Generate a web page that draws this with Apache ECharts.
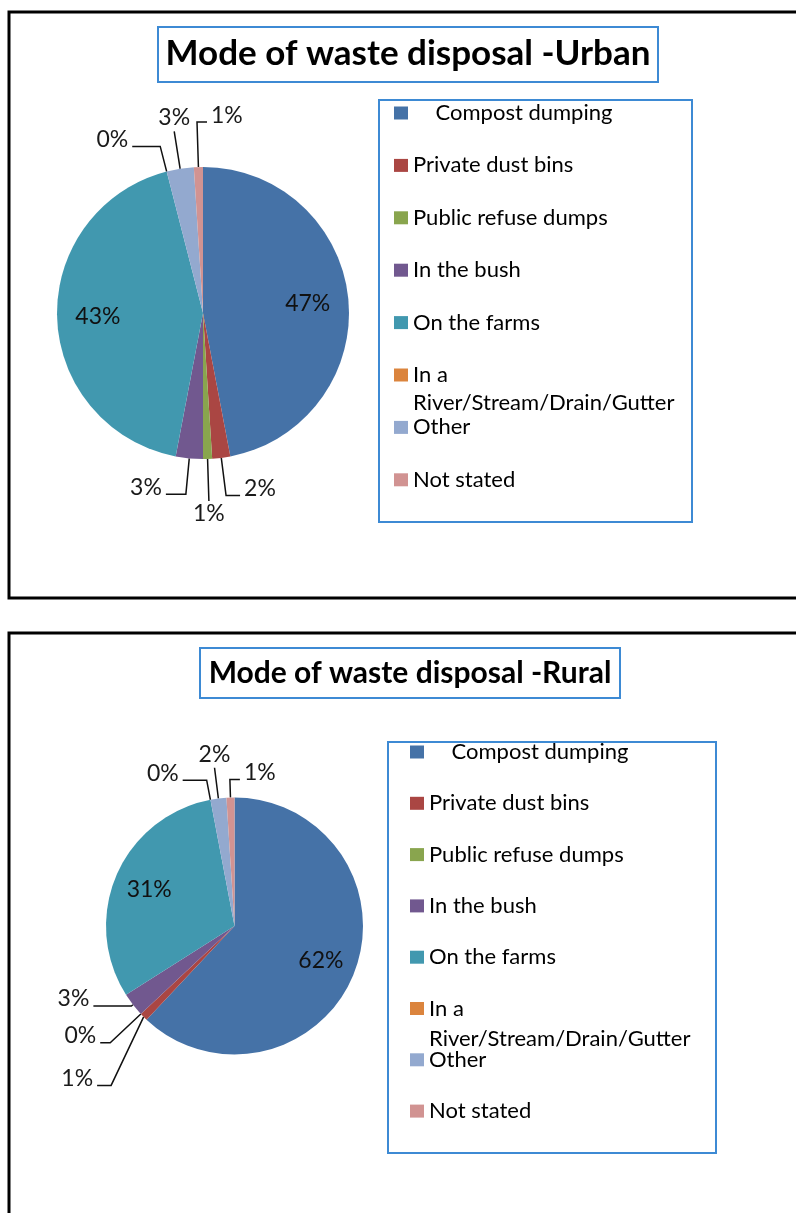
<!DOCTYPE html>
<html>
<head>
<meta charset="utf-8">
<title>Mode of waste disposal</title>
<script src="https://cdn.jsdelivr.net/npm/echarts@6/dist/echarts.min.js"></script>
<style>
	html, body { margin: 0; padding: 0; background: #fff; }
	#main { width: 796px; height: 1213px; }
</style>
</head>
<body>
<div id="main"></div>
<script>
/*数据*/
var modes = ['Compost dumping', 'Private dust bins', 'Public refuse dumps', 'In the bush', 'On the farms', 'In a River/Stream/Drain/Gutter', 'Other', 'Not stated'];
var urbanShare = [47, 2, 1, 3, 43, 0, 3, 1];
var ruralShare = [62, 1, 0, 3, 31, 0, 2, 1];
var palette = ['#4572A7', '#AA4643', '#89A54E', '#71588F', '#4198AF', '#DB843D', '#93A9CF', '#D19392'];

// leader line per slice: [radial length, horizontal length, where the text sits, extra drop]
var urbanLeader = [null, [38, 14, 'side'], [42, 0, 'down'], [36, 20, 'side'], null, [26, 28, 'side'], [38, 0, 'up'], [45, 10, 'flip']];
var ruralLeader = [null, [46, 14, 'side', 36], [42, 10, 'side'], [2, 38, 'side'], null, [20, 24, 'side'], [31, 0, 'up'], [18, 10, 'flip']];

var font = 'Lato, sans-serif';

function leaderLayout(cfg) {
	return function(p) {
		var c = cfg[p.dataIndex];
		var pts = p.labelLinePoints;
		if(!c || !pts) return {};
		var a = pts[0], b = pts[1];
		var dx = b[0] - a[0], dy = b[1] - a[1];
		var len = Math.sqrt(dx * dx + dy * dy) || 1;
		var m = [a[0] + dx / len * c[0], a[1] + dy / len * c[0] + (c[3] || 0)];
		if(c[2] == 'up') {
			return { x: m[0], y: m[1] - 2, align: 'center', verticalAlign: 'bottom', labelLinePoints: [a, m, m] };
		}
		if(c[2] == 'down') {
			return { x: m[0], y: m[1] + 1, align: 'center', verticalAlign: 'top', labelLinePoints: [a, m, m] };
		}
		var dir = pts[2][0] < pts[1][0] ? -1 : 1;
		if(c[2] == 'flip') dir = -dir;
		var e = [m[0] + dir * c[1], m[1]];
		return { x: e[0] + dir * 4, y: e[1] - 7, align: dir < 0 ? 'right' : 'left', verticalAlign: 'middle', labelLinePoints: [a, m, e] };
	};
}

function pieSeries(share, center, r, leader) {
	// 饼图 + 内部标签
	var main = {
		type: 'pie',
		center: center,
		radius: r,
		startAngle: 90,
		clockwise: true,
		avoidLabelOverlap: false,
		silent: true,
		itemStyle: { borderWidth: 0 },
		label: {
			position: 'outside',
			alignTo: 'none',
			fontFamily: font,
			fontSize: 23,
			color: '#1a1a1a',
			formatter: function(p) { return p.value + '%'; }
		},
		labelLine: { length: 10, length2: 10, lineStyle: { color: '#111', width: 1.5 } },
		labelLayout: leaderLayout(leader),
		data: modes.map(function(n, i) {
			return {
				name: n,
				value: share[i],
				itemStyle: { color: palette[i] },
				label: { show: share[i] < 10 },
				labelLine: { show: share[i] < 10 }
			};
		})
	};
	var inner = {
		type: 'pie',
		center: center,
		radius: [r * 0.4, r],
		startAngle: 90,
		clockwise: true,
		silent: true,
		itemStyle: { color: 'rgba(0,0,0,0)', borderWidth: 0 },
		label: {
			show: false,
			position: 'inside',
			fontFamily: font,
			fontSize: 23,
			color: '#111',
			formatter: function(p) { return p.value + '%'; }
		},
		labelLine: { show: false },
		data: modes.map(function(n, i) {
			return { name: n, value: share[i], label: { show: share[i] >= 10 } };
		})
	};
	return [main, inner];
}

function legendFor(left, top, gap) {
	return {
		orient: 'vertical',
		left: left,
		top: top,
		padding: 0,
		itemGap: gap,
		itemWidth: 14,
		itemHeight: 13,
		icon: 'rect',
		selectedMode: false,
		data: modes,
		formatter: function(name) {
			if(name == modes[0]) return '    ' + name;
			if(name == modes[5]) return 'In a';
			return name;
		},
		textStyle: { fontFamily: font, fontSize: 22, lineHeight: 24, color: '#000' }
	};
}

// second line of the wrapped legend entry
function wrapLine(x, y) {
	return {
		type: 'text',
		silent: true,
		x: x,
		y: y,
		style: { text: 'River/Stream/Drain/Gutter', font: '22px ' + font, fill: '#000', verticalAlign: 'middle' }
	};
}

function box(x, y, w, h, color, lw) {
	return {
		type: 'rect',
		silent: true,
		shape: { x: x, y: y, width: w, height: h },
		style: { fill: 'none', stroke: color, lineWidth: lw }
	};
}

var myChart = echarts.init(document.getElementById('main'));
var blue = '#3d8ad4';

var option = {
	animation: false,
	backgroundColor: '#fff',
	title: [{
		text: 'Mode of waste disposal -Urban',
		left: 408,
		top: 54,
		padding: 0,
		textAlign: 'center',
		textVerticalAlign: 'middle',
		textStyle: { fontFamily: font, fontWeight: 'bold', fontSize: 35, color: '#000' }
	}, {
		text: 'Mode of waste disposal -Rural',
		left: 410,
		top: 673,
		padding: 0,
		textAlign: 'center',
		textVerticalAlign: 'middle',
		textStyle: { fontFamily: font, fontWeight: 'bold', fontSize: 30, color: '#000' }
	}],
	legend: [legendFor(394, 101, 28.4), legendFor(410, 740, 27.3)],
	graphic: [
		box(9, 12, 800, 586, '#000', 3),
		box(9, 633, 800, 600, '#000', 3),
		box(158, 27, 500, 55, blue, 2),
		box(200, 648, 420, 50, blue, 2),
		box(379, 100, 313, 422, blue, 2),
		box(388, 742, 328, 411, blue, 2),
		wrapLine(413, 403),
		wrapLine(429, 1039)
	],
	series: pieSeries(urbanShare, [203, 313], 146, urbanLeader)
		.concat(pieSeries(ruralShare, [234.5, 926], 128.5, ruralLeader))
};

myChart.setOption(option);
</script>
</body>
</html>
